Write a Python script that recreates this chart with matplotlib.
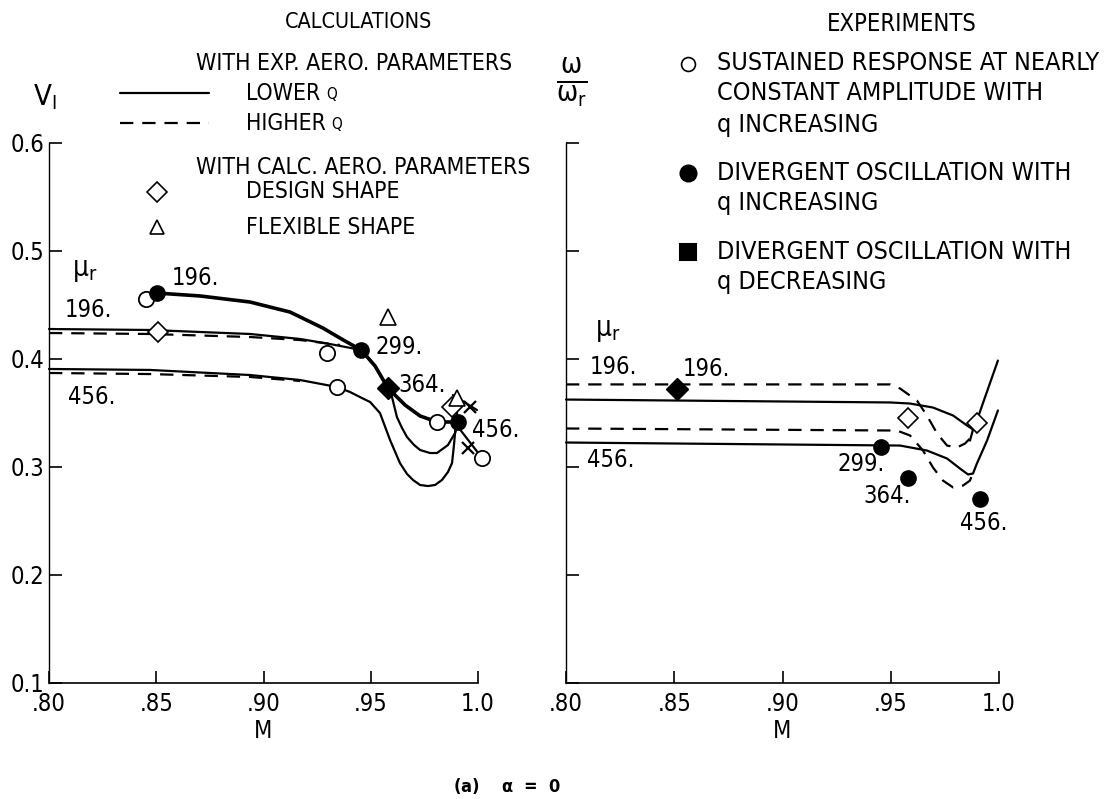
import matplotlib
matplotlib.use('Agg')
import matplotlib.pyplot as plt
from matplotlib.lines import Line2D
from matplotlib.text import Annotation

plt.rcParams['font.family'] = ['DejaVu Sans Condensed', 'Liberation Sans Narrow', 'DejaVu Sans']
plt.rcParams['font.stretch'] = 'condensed'
plt.rcParams['mathtext.default'] = 'regular'

W, H = 1107, 799

# ---- calculations (left panel): V_I vs M ----
mu_r = [196, 299, 364, 456]

# faired curve through divergent points
fair_M = [0.8504, 0.8704, 0.8937, 0.9124, 0.9277, 0.9380, 0.9455, 0.9520, 0.9580, 0.9660, 0.9730, 0.9809, 0.9907]
fair_V = [0.4606, 0.4579, 0.4523, 0.4430, 0.4282, 0.4162, 0.4079, 0.3931, 0.3727, 0.3569, 0.3468, 0.3412, 0.3412]

# lower q, mu_r = 196
low196_M = [0.800, 0.8471, 0.8937, 0.9170, 0.9310, 0.9455, 0.9520, 0.9580, 0.9599, 0.9622, 0.9646, 0.9669,
            0.9702, 0.9730, 0.9776, 0.9809, 0.9860, 0.9893, 0.9907]
low196_V = [0.4273, 0.4264, 0.4227, 0.4181, 0.4134, 0.4079, 0.3931, 0.3727, 0.3644, 0.3458, 0.3356, 0.3273,
            0.3199, 0.3153, 0.3125, 0.3125, 0.3199, 0.3310, 0.3403]
# lower q, mu_r = 456
low456_M = [0.800, 0.8471, 0.8937, 0.9170, 0.9343, 0.9403, 0.9459, 0.9497, 0.9543, 0.9590, 0.9636, 0.9669,
            0.9697, 0.9730, 0.9767, 0.9800, 0.9832, 0.9860, 0.9879, 0.9888, 0.9893, 0.9902, 0.9907]
low456_V = [0.3903, 0.3894, 0.3847, 0.3801, 0.3736, 0.3690, 0.3634, 0.3597, 0.3495, 0.3245, 0.3032, 0.2931,
            0.2875, 0.2829, 0.2819, 0.2829, 0.2875, 0.2949, 0.3032, 0.3199, 0.3310, 0.3495, 0.3616]
# higher q
high196_M = [0.800, 0.8471, 0.8937, 0.9170, 0.9357]
high196_V = [0.4236, 0.4227, 0.4199, 0.4171, 0.4125]
high456_M = [0.800, 0.8471, 0.8937, 0.9170]
high456_V = [0.3866, 0.3856, 0.3829, 0.3792]

# experimental points
open_M = [0.8452, 0.9296, 0.9343, 0.9809, 1.0019]
open_V = [0.4551, 0.4051, 0.3736, 0.3412, 0.3079]
div_inc_M = [0.8504, 0.9455, 0.9907]
div_inc_V = [0.4606, 0.4079, 0.3412]
div_dec_M = [0.9580]
div_dec_V = [0.3727]

# calculated aero parameters
design_M = [0.8508, 0.9879]
design_V = [0.4245, 0.3551]
flex_M = [0.9580, 0.9902]
flex_V = [0.4384, 0.3630]

# crossed tie lines near M = 1.0
tie1_M, tie1_V = [0.9883, 0.9995], [0.3662, 0.3523]
tie2_M, tie2_V = [0.9907, 1.0019], [0.3366, 0.3079]
cross_M, cross_V = [0.9963, 0.9953], [0.3550, 0.3171]

# ---- experiments (right panel): omega/omega_r vs M ----
r_high196_M = [0.800, 0.9497, 0.9543, 0.9621, 0.9667, 0.9714, 0.976, 0.9806, 0.9843, 0.9866]
r_high196_V = [0.376, 0.376, 0.3722, 0.3611, 0.3472, 0.3306, 0.3194, 0.3176, 0.3213, 0.3259]
r_low196_M = [0.800, 0.9497, 0.9589, 0.9695, 0.9788, 0.9852, 0.9880, 0.9898, 0.9935, 0.9995]
r_low196_V = [0.362, 0.3593, 0.3583, 0.3546, 0.3472, 0.3380, 0.3343, 0.3426, 0.3639, 0.3981]
r_branch_M = [0.9866, 0.9880]
r_branch_V = [0.3240, 0.3343]
r_high456_M = [0.800, 0.9529, 0.9589, 0.9649, 0.9695, 0.9741, 0.9788, 0.9834, 0.9866, 0.988]
r_high456_V = [0.3352, 0.3333, 0.3287, 0.3148, 0.2991, 0.2870, 0.2806, 0.2824, 0.2870, 0.2944]
r_low456_M = [0.800, 0.9543, 0.9667, 0.976, 0.982, 0.9857, 0.988, 0.9898, 0.9945, 0.9995]
r_low456_V = [0.3222, 0.3194, 0.3148, 0.3074, 0.2981, 0.2926, 0.2935, 0.3028, 0.3241, 0.3519]

r_div_dec_M, r_div_dec_V = [0.8513], [0.372]
r_design_M, r_design_V = [0.958, 0.990], [0.345, 0.340]
r_div_inc_M = [0.9455, 0.958, 0.991]
r_div_inc_V = [0.3185, 0.289, 0.270]

x_ticks = [0.80, 0.85, 0.90, 0.95, 1.0]
x_labels = ['.80', '.85', '.90', '.95', '1.0']
y_ticks = [0.1, 0.2, 0.3, 0.4, 0.5, 0.6]
y_labels = ['0.1', '0.2', '0.3', '0.4', '0.5', '0.6']


def fx(px):
    return px / W


def fy(py):
    return 1 - py / H


fig = plt.figure(figsize=(W / 100, H / 100), dpi=100)
axL = fig.add_axes([fx(49), fy(682.5), 429 / W, 540 / H])
axR = fig.add_axes([fx(566), fy(682.5), 433 / W, 540 / H])

for ax in (axL, axR):
    ax.set_xlim(0.80, 1.0)
    ax.set_ylim(0.1, 0.6)
    ax.spines['top'].set_visible(False)
    ax.spines['right'].set_visible(False)
    ax.spines['left'].set_linewidth(1.0)
    ax.spines['bottom'].set_linewidth(1.2)
    ax.set_xticks(x_ticks)
    ax.set_xticklabels(x_labels)
    ax.set_yticks(y_ticks)
    ax.tick_params(direction='in', length=9, width=1.2, labelsize=17)
    ax.tick_params(axis='x', pad=7)
    ax.tick_params(axis='y', pad=3)
    ax.set_xlabel('M', fontsize=17, labelpad=2)

axL.set_yticklabels(y_labels)
axR.set_yticklabels([])

solid = dict(color='black', lw=1.6, solid_joinstyle='round', solid_capstyle='round')
dashed = dict(color='black', lw=1.6, linestyle=(0, (6, 4)))
mk = dict(linestyle='none', color='black', clip_on=False, zorder=5)

# left panel curves
axL.plot(fair_M, fair_V, color='black', lw=2.6, solid_joinstyle='round', clip_on=False)
axL.plot(low196_M, low196_V, clip_on=False, **solid)
axL.plot(low456_M, low456_V, clip_on=False, **solid)
axL.plot(high196_M, high196_V, **dashed)
axL.plot(high456_M, high456_V, **dashed)
axL.plot(tie1_M, tie1_V, clip_on=False, **solid)
axL.plot(tie2_M, tie2_V, clip_on=False, **solid)
axL.plot(cross_M, cross_V, marker='x', ms=9, mew=1.6, **mk)

axL.plot(open_M, open_V, marker='o', ms=11, mfc='white', mew=1.3, **mk)
axL.plot(div_inc_M, div_inc_V, marker='o', ms=11, mfc='black', **mk)
axL.plot(div_dec_M, div_dec_V, marker='D', ms=11, mfc='black', **mk)
axL.plot(design_M, design_V, marker='D', ms=10, mfc='white', mew=1.2, **mk)
axL.plot(flex_M, flex_V, marker='^', ms=11, mfc='white', mew=1.2, **mk)

# left panel labels
lab = dict(fontsize=17, va='center', ha='left', clip_on=False)
axL.text(0.8107, 0.4819, r'$\mu_r$', fontsize=20, va='center', ha='left')
axL.text(0.8075, 0.4449, f'{mu_r[0]}.', **lab)
axL.text(0.8089, 0.3644, f'{mu_r[3]}.', **lab)
axL.text(0.8573, 0.4745, f'{mu_r[0]}.', **lab)
axL.text(0.9520, 0.4106, f'{mu_r[1]}.', **lab)
axL.text(0.9627, 0.3755, f'{mu_r[2]}.', **lab)
axL.text(0.9972, 0.3338, f'{mu_r[3]}.', **lab)

# right panel curves
axR.plot(r_high196_M, r_high196_V, clip_on=False, **dashed)
axR.plot(r_low196_M, r_low196_V, clip_on=False, **solid)
axR.plot(r_branch_M, r_branch_V, clip_on=False, **solid)
axR.plot(r_high456_M, r_high456_V, clip_on=False, **dashed)
axR.plot(r_low456_M, r_low456_V, clip_on=False, **solid)

axR.plot(r_div_dec_M, r_div_dec_V, marker='D', ms=11, mfc='black', **mk)
axR.plot(r_design_M, r_design_V, marker='D', ms=10, mfc='white', mew=1.2, **mk)
axR.plot(r_div_inc_M, r_div_inc_V, marker='o', ms=11, mfc='black', **mk)

axR.text(0.8134, 0.426, r'$\mu_r$', fontsize=20, va='center', ha='left')
axR.text(0.8111, 0.3917, f'{mu_r[0]}.', **lab)
axR.text(0.8097, 0.3056, f'{mu_r[3]}.', **lab)
axR.text(0.854, 0.3907, f'{mu_r[0]}.', **lab)
axR.text(0.9252, 0.3019, f'{mu_r[1]}.', **lab)
axR.text(0.9372, 0.2731, f'{mu_r[2]}.', **lab)
axR.text(0.982, 0.2481, f'{mu_r[3]}.', **lab)

# axis titles above the panels
fig.text(fx(45), fy(97), r'$V_I$', fontsize=21, ha='center', va='center')
fig.text(fx(572), fy(82), r'$\frac{\omega}{\omega_r}$', fontsize=29, ha='center', va='center')

# calculations key
key = dict(fontsize=16.5, va='center', ha='left')
fig.text(fx(359), fy(22), 'CALCULATIONS', fontsize=15.5, ha='center', va='center')
fig.text(fx(196), fy(63), 'WITH EXP. AERO. PARAMETERS', **key)
fig.add_artist(Line2D([fx(120), fx(209)], [fy(93), fy(93)], transform=fig.transFigure, **solid))
fig.add_artist(Line2D([fx(120), fx(209)], [fy(123), fy(123)], transform=fig.transFigure, **dashed))
t_low = fig.text(fx(246), fy(93), 'LOWER', **key)
t_high = fig.text(fx(246), fy(123), 'HIGHER', **key)
for t in (t_low, t_high):
    fig.add_artist(Annotation('Q', xy=(1, 0.1), xycoords=t, xytext=(4, 0),
                              textcoords='offset points', fontsize=11, va='bottom', ha='left'))
fig.text(fx(196), fy(167), 'WITH CALC. AERO. PARAMETERS', **key)
fig.add_artist(Line2D([fx(157)], [fy(192)], marker='D', ms=10, mfc='white', mec='black', mew=1.2,
                      linestyle='none', transform=fig.transFigure))
fig.add_artist(Line2D([fx(157)], [fy(227)], marker='^', ms=10, mfc='white', mec='black', mew=1.2,
                      linestyle='none', transform=fig.transFigure))
fig.text(fx(246), fy(192), 'DESIGN SHAPE', **key)
fig.text(fx(246), fy(227), 'FLEXIBLE SHAPE', **key)

# experiments key
ekey = dict(fontsize=18, va='center', ha='left')
fig.text(fx(902), fy(24), 'EXPERIMENTS', fontsize=17, ha='center', va='center')
fig.add_artist(Line2D([fx(688)], [fy(64)], marker='o', ms=10, mfc='white', mec='black', mew=1.2,
                      linestyle='none', transform=fig.transFigure))
fig.add_artist(Line2D([fx(688)], [fy(173)], marker='o', ms=12, mfc='black', mec='black',
                      linestyle='none', transform=fig.transFigure))
fig.add_artist(Line2D([fx(688)], [fy(252)], marker='s', ms=12, mfc='black', mec='black',
                      mew=1.5, linestyle='none', transform=fig.transFigure))
fig.text(fx(717), fy(63), 'SUSTAINED RESPONSE AT NEARLY', **ekey)
fig.text(fx(717), fy(93), 'CONSTANT AMPLITUDE WITH', **ekey)
fig.text(fx(717), fy(125), 'q INCREASING', **ekey)
fig.text(fx(717), fy(173), 'DIVERGENT OSCILLATION WITH', **ekey)
fig.text(fx(717), fy(203), 'q INCREASING', **ekey)
fig.text(fx(717), fy(252), 'DIVERGENT OSCILLATION WITH', **ekey)
fig.text(fx(717), fy(282), 'q DECREASING', **ekey)

fig.text(fx(507), fy(786), r'(a)    $\alpha$  =  0', fontsize=13, fontweight='bold', ha='center', va='center')

fig.savefig('out.png', dpi=100)
